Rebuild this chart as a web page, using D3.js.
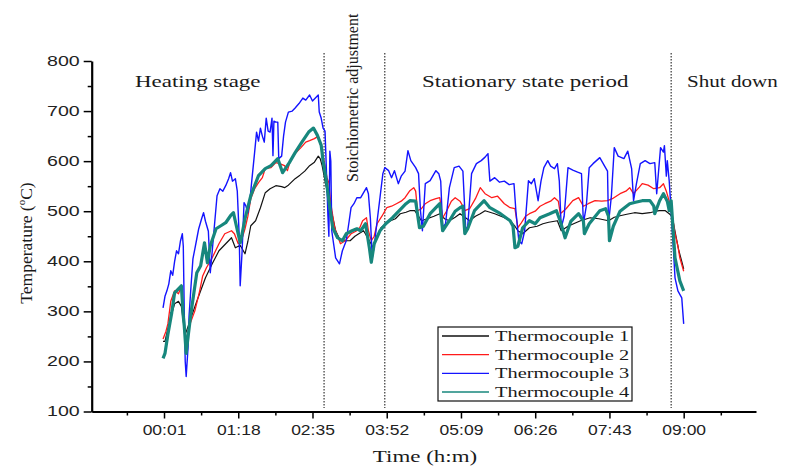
<!DOCTYPE html>
<html>
<head>
<meta charset="utf-8">
<script src="https://cdnjs.cloudflare.com/ajax/libs/d3/7.8.5/d3.min.js"></script>
<style>
  body { margin: 0; background: #fff; }
</style>
</head>
<body>
<script>
// time is in minutes from start, temperatures in degC
const tickMinutes = [1, 78, 155, 232, 309, 386, 463, 540];
const tickLabels = ["00:01", "01:18", "02:35", "03:52", "05:09", "06:26", "07:43", "09:00"];
const yTicks = [100, 200, 300, 400, 500, 600, 700, 800];
const seriesNames = ["Thermocouple 1", "Thermocouple 2", "Thermocouple 3", "Thermocouple 4"];
const seriesColors = ["#111111", "#ff1a1a", "#1414ff", "#17877d"];
const stageBreaks = [167, 230, 527];
const stageLabels = ["Heating stage", "Stoichiometric adjustment", "Stationary state period", "Shut down"];

const tc1 = [[0,240],[2,240],[5,265],[9,295],[12,315],[16,320],[19,310],[21,280],[23,254],[26,270],[29,287],[34,315],[39,341],[44,367],[51,395],[58,421],[65,435],[71,447],[75,427],[80,432],[85,415],[88,440],[91,471],[96,481],[101,507],[106,537],[111,545],[117,551],[123,549],[126,547],[130,552],[137,565],[142,572],[147,580],[152,591],[157,598],[161,610],[163,605],[165,591],[169,551],[173,515],[179,461],[184,441],[189,441],[194,441],[199,450],[203,455],[208,461],[214,441],[218,427],[222,450],[226,467],[231,475],[236,481],[241,485],[246,495],[252,498],[256,501],[261,501],[265,490],[268,481],[274,485],[281,490],[287,495],[292,485],[297,481],[303,488],[308,495],[313,488],[318,481],[324,490],[329,495],[334,501],[344,495],[353,488],[360,481],[365,470],[368,461],[373,455],[380,467],[388,470],[394,475],[400,478],[409,481],[413,461],[420,470],[427,476],[433,481],[443,487],[452,485],[462,481],[468,488],[474,491],[481,494],[489,497],[497,495],[505,497],[511,500],[515,501],[521,501],[525,495],[528,490],[531,460],[535,421],[538,400],[540,385]];

const tc2 = [[0,245],[3,260],[5,275],[8,320],[12,341],[16,335],[19,350],[21,300],[23,234],[26,260],[28,275],[33,301],[38,341],[41,370],[45,387],[51,407],[58,435],[64,455],[71,461],[74,455],[78,435],[81,440],[85,465],[88,490],[91,525],[95,545],[99,557],[103,567],[106,585],[112,587],[117,597],[121,595],[126,591],[129,581],[132,601],[137,615],[143,627],[148,638],[152,641],[157,645],[161,650],[164,627],[168,591],[170,567],[172,557],[174,515],[178,467],[184,435],[189,441],[195,455],[200,460],[204,467],[207,481],[211,487],[213,461],[216,441],[219,450],[222,475],[227,490],[232,507],[237,510],[242,515],[247,520],[251,527],[256,541],[260,547],[262,540],[264,501],[268,505],[272,515],[277,521],[283,525],[287,527],[290,487],[294,500],[299,520],[303,527],[308,520],[311,510],[313,501],[318,505],[324,525],[329,547],[334,535],[341,527],[347,530],[354,515],[360,507],[365,505],[368,467],[371,475],[376,490],[380,495],[386,500],[391,510],[396,515],[402,520],[406,527],[410,520],[412,495],[418,505],[425,521],[431,527],[436,510],[441,515],[448,521],[455,520],[461,521],[466,525],[474,535],[480,540],[484,547],[488,535],[494,548],[497,555],[503,552],[509,545],[515,547],[519,555],[522,540],[525,520],[527,507],[531,455],[534,430],[536,407],[540,380]];

const tc3 = [[0,307],[2,330],[4,341],[6,355],[8,381],[10,372],[12,400],[14,421],[16,415],[18,440],[20,455],[21,430],[22,300],[23,200],[24,170],[26,230],[27,291],[29,350],[31,405],[33,425],[35,445],[37,465],[40,485],[42,497],[44,480],[47,460],[49,377],[51,420],[53,465],[56,531],[59,545],[62,540],[65,551],[68,565],[70,577],[72,560],[75,565],[77,540],[79,450],[80,351],[82,420],[84,517],[86,510],[88,497],[90,520],[92,560],[95,618],[97,658],[99,640],[101,666],[103,650],[105,638],[107,686],[109,660],[111,658],[113,686],[114,611],[115,680],[117,678],[119,678],[120,605],[123,610],[125,650],[127,678],[130,698],[134,700],[137,706],[141,715],[145,726],[148,722],[152,732],[155,720],[158,726],[161,732],[162,698],[164,686],[166,666],[168,660],[170,551],[171,491],[172,450],[173,620],[174,600],[175,461],[176,447],[179,407],[183,395],[186,421],[190,441],[193,480],[195,507],[198,515],[201,527],[205,527],[208,537],[211,547],[213,535],[215,487],[217,407],[219,430],[222,480],[225,527],[228,575],[230,587],[234,581],[237,567],[240,581],[244,555],[247,570],[251,580],[254,621],[257,601],[262,587],[265,575],[267,501],[269,461],[272,555],[277,561],[283,581],[286,575],[288,560],[290,467],[293,475],[297,547],[302,587],[307,590],[311,580],[314,461],[316,470],[320,575],[325,595],[330,601],[334,608],[337,615],[339,560],[344,567],[349,558],[354,560],[359,553],[364,555],[366,500],[369,441],[372,435],[375,460],[379,561],[382,555],[385,565],[389,521],[392,560],[395,587],[399,601],[402,590],[406,585],[409,595],[411,560],[413,467],[416,490],[420,587],[425,582],[430,578],[434,575],[436,475],[439,510],[442,587],[446,595],[453,607],[458,590],[461,580],[462,475],[465,530],[468,627],[472,610],[478,605],[482,620],[486,585],[488,521],[491,555],[495,595],[500,601],[505,595],[510,597],[512,535],[516,627],[519,618],[520,631],[522,570],[523,601],[525,560],[527,500],[529,435],[531,367],[534,341],[538,327],[540,275]];

const tc4 = [[0,206],[2,216],[5,254],[9,297],[12,337],[16,345],[19,351],[21,290],[22,271],[24,216],[26,250],[29,297],[32,337],[35,377],[39,391],[43,437],[46,397],[49,431],[55,465],[60,471],[65,477],[70,491],[73,497],[76,471],[80,437],[81,445],[85,485],[91,531],[99,571],[106,585],[112,591],[119,605],[124,577],[131,597],[137,617],[144,638],[151,658],[156,666],[160,652],[164,632],[166,600],[168,577],[170,551],[173,507],[176,467],[181,447],[186,441],[190,455],[196,461],[201,465],[205,461],[210,475],[214,427],[216,398],[219,435],[225,461],[231,475],[238,487],[245,501],[252,515],[256,521],[262,520],[265,480],[266,467],[270,470],[277,495],[282,505],[287,515],[290,461],[297,481],[303,500],[308,507],[311,510],[313,455],[316,465],[323,501],[333,521],[339,507],[350,495],[360,481],[363,470],[365,427],[368,430],[373,467],[380,481],[386,475],[391,487],[401,495],[408,501],[412,480],[414,467],[417,447],[423,480],[431,495],[436,480],[437,455],[442,475],[453,501],[459,505],[462,490],[463,441],[467,470],[474,500],[484,515],[490,518],[497,521],[505,521],[509,510],[510,495],[515,521],[519,535],[523,520],[525,501],[527,521],[531,407],[536,361],[540,341]];

const allSeries = [tc1, tc2, tc3, tc4];

const width = 785, height = 467;
const serif = "'Liberation Serif', 'Times New Roman', serif";
const sans = "'Liberation Sans', Arial, sans-serif";

const svg = d3.select("body").append("svg")
    .attr("width", width)
    .attr("height", height);

// scales: the axis starts about one tick step before 00:01
const x = d3.scaleLinear().domain([-74, 615]).range([91.7, 756]);
const y = d3.scaleLinear().domain([100, 800]).range([411.5, 61]);

// stage separators
svg.append("g")
    .selectAll("line")
    .data(stageBreaks)
    .join("line")
    .attr("x1", d => x(d)).attr("x2", d => x(d))
    .attr("y1", y(816)).attr("y2", y(107))
    .attr("stroke", "#222")
    .attr("stroke-width", 1.1)
    .attr("stroke-dasharray", "1.5,1.5");

// series lines
const line = d3.line()
    .x(d => x(d[0]))
    .y(d => y(d[1]));

const widths = [1.2, 1.3, 1.4, 3.2];
svg.append("g")
    .selectAll("path")
    .data(allSeries)
    .join("path")
    .attr("d", line)
    .attr("fill", "none")
    .attr("stroke", (d, i) => seriesColors[i])
    .attr("stroke-width", (d, i) => widths[i])
    .attr("stroke-linejoin", "round");

// minor ticks
const xMinor = tickMinutes.map(t => t - 38.5).concat([tickMinutes[tickMinutes.length - 1] + 38.5]);
const yMinor = yTicks.slice(0, -1).map(v => v + 50);

svg.append("g")
    .attr("transform", `translate(0,${y(100)})`)
    .call(d3.axisBottom(x).tickValues(xMinor).tickSize(4).tickFormat("").tickSizeOuter(0))
    .call(g => g.select(".domain").remove())
    .selectAll("line").attr("stroke-width", 1.5);

svg.append("g")
    .attr("transform", `translate(${x(-74)},0)`)
    .call(d3.axisLeft(y).tickValues(yMinor).tickSize(4).tickFormat("").tickSizeOuter(0))
    .call(g => g.select(".domain").remove())
    .selectAll("line").attr("stroke-width", 1.5);

// major axes
const xAxis = svg.append("g")
    .attr("transform", `translate(0,${y(100)})`)
    .call(d3.axisBottom(x)
        .tickValues(tickMinutes)
        .tickFormat((d, i) => tickLabels[i])
        .tickSize(7)
        .tickPadding(7)
        .tickSizeOuter(0));

const yAxis = svg.append("g")
    .attr("transform", `translate(${x(-74)},0)`)
    .call(d3.axisLeft(y)
        .tickValues(yTicks)
        .tickSize(8)
        .tickSizeOuter(0));

[xAxis, yAxis].forEach(g => {
    g.select(".domain").attr("stroke-width", 2.2);
    g.selectAll(".tick line").attr("stroke-width", 1.5);
    g.selectAll("text")
        .attr("font-family", sans)
        .attr("font-size", 14)
        .attr("fill", "#222");
});
xAxis.selectAll("text").attr("transform", "scale(1.25,1)");
yAxis.selectAll("text")
    .attr("x", -12 / 1.4)
    .attr("transform", "scale(1.4,1)");

// helper for the horizontally stretched serif text of the original
function stretchedText(px, py, str, size, sx, anchor) {
    return svg.append("g")
        .attr("transform", `translate(${px},${py}) scale(${sx},1)`)
        .append("text")
        .attr("font-family", serif)
        .attr("font-size", size)
        .attr("fill", "#1a1a1a")
        .attr("text-anchor", anchor || "start")
        .text(str);
}

// stage labels
stretchedText(135, 87, stageLabels[0], 17, 1.35);
stretchedText(422, 87, stageLabels[2], 17, 1.35);
stretchedText(687, 87, stageLabels[3], 17, 1.24);

svg.append("text")
    .attr("transform", "translate(358,182) rotate(-90)")
    .attr("font-family", serif)
    .attr("font-size", 16)
    .attr("fill", "#1a1a1a")
    .text(stageLabels[1]);

// axis titles
stretchedText(425, 462, "Time (h:m)", 17, 1.35, "middle");

const yTitle = svg.append("text")
    .attr("transform", "translate(32,243) rotate(-90)")
    .attr("font-family", serif)
    .attr("font-size", 17.5)
    .attr("fill", "#1a1a1a")
    .attr("text-anchor", "middle");
yTitle.append("tspan").text("Temperature (");
yTitle.append("tspan").attr("font-size", 11).attr("dy", -7).text("o");
yTitle.append("tspan").attr("dy", 7).text("C)");

// legend
const legend = svg.append("g");
legend.append("rect")
    .attr("x", 438).attr("y", 327)
    .attr("width", 194).attr("height", 74)
    .attr("fill", "#fff")
    .attr("stroke", "#111")
    .attr("stroke-width", 1.2);

const rowY = d3.scalePoint().domain(seriesNames).range([336, 392]);
seriesNames.forEach((name, i) => {
    legend.append("line")
        .attr("x1", 442).attr("x2", 489)
        .attr("y1", rowY(name)).attr("y2", rowY(name))
        .attr("stroke", seriesColors[i])
        .attr("stroke-width", 1.3);
    legend.append("g")
        .attr("transform", `translate(495,${rowY(name) + 5}) scale(1.36,1)`)
        .append("text")
        .attr("font-family", serif)
        .attr("font-size", 15)
        .attr("fill", "#1a1a1a")
        .text(name);
});
</script>
</body>
</html>
